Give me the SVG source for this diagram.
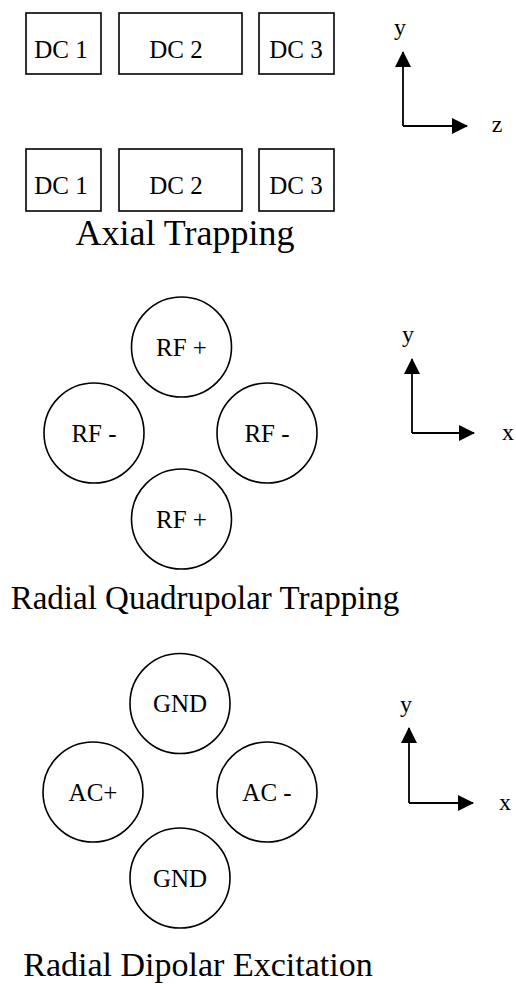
<svg xmlns="http://www.w3.org/2000/svg" width="516" height="984" viewBox="0 0 516 984">
<style>
  .el { fill: #fff; stroke: #000; stroke-width: 1.6; }
  .lbl { font-family: "Liberation Serif", "Times New Roman", serif; font-size: 25px; fill: #000; text-anchor: middle; }
  .ttl { font-family: "Liberation Serif", "Times New Roman", serif; font-size: 33px; fill: #000; text-anchor: middle; }
  .ax { font-family: "Liberation Serif", "Times New Roman", serif; font-size: 24px; fill: #000; text-anchor: middle; }
  .axl { fill: none; stroke: #000; stroke-width: 1.8; }
</style>
<defs>
  <marker id="ah" markerUnits="userSpaceOnUse" markerWidth="16" markerHeight="16" viewBox="0 0 16 16" refX="15" refY="8" orient="auto">
    <path d="M0,0 L16,8 L0,16 Z" fill="#000"/>
  </marker>
</defs>
<rect width="516" height="984" fill="#fff"/>

<!-- Axial trapping -->
<g id="dc1-top"><rect class="el" x="26" y="13" width="75" height="61"/><text class="lbl" x="61" y="58">DC 1</text></g>
<g id="dc2-top"><rect class="el" x="119" y="13" width="123" height="61"/><text class="lbl" x="176" y="58">DC 2</text></g>
<g id="dc3-top"><rect class="el" x="259" y="13" width="75" height="61"/><text class="lbl" x="296" y="58">DC 3</text></g>
<g id="dc1-bot"><rect class="el" x="26" y="149" width="75" height="62"/><text class="lbl" x="61" y="194">DC 1</text></g>
<g id="dc2-bot"><rect class="el" x="119" y="149" width="123" height="62"/><text class="lbl" x="176" y="194">DC 2</text></g>
<g id="dc3-bot"><rect class="el" x="259" y="149" width="75" height="62"/><text class="lbl" x="296" y="194">DC 3</text></g>
<text class="ttl" x="185" y="245" style="font-size:36px">Axial Trapping</text>

<!-- Radial quadrupolar trapping -->
<g id="rf-top"><circle class="el" cx="181.5" cy="347" r="50"/><text class="lbl" x="181.5" y="356">RF +</text></g>
<g id="rf-left"><circle class="el" cx="94" cy="433" r="50"/><text class="lbl" x="94" y="442">RF -</text></g>
<g id="rf-right"><circle class="el" cx="267" cy="433" r="50"/><text class="lbl" x="267" y="442">RF -</text></g>
<g id="rf-bot"><circle class="el" cx="181.5" cy="519" r="50"/><text class="lbl" x="181.5" y="528">RF +</text></g>
<text class="ttl" x="205" y="609">Radial Quadrupolar Trapping</text>

<!-- Radial dipolar excitation -->
<g id="gnd-top"><circle class="el" cx="180" cy="703.5" r="50"/><text class="lbl" x="180" y="712">GND</text></g>
<g id="ac-plus"><circle class="el" cx="93" cy="792" r="50"/><text class="lbl" x="93" y="801">AC+</text></g>
<g id="ac-minus"><circle class="el" cx="267" cy="792" r="50"/><text class="lbl" x="267" y="801">AC -</text></g>
<g id="gnd-bot"><circle class="el" cx="180" cy="878" r="50"/><text class="lbl" x="180" y="887">GND</text></g>
<text class="ttl" x="198" y="976" style="font-size:34px">Radial Dipolar Excitation</text>

<!-- Axes -->
<g id="connectors">
  <path class="axl" d="M403,126 L403,52" marker-end="url(#ah)"/>
  <path class="axl" d="M403,126 L467,126" marker-end="url(#ah)"/>
  <path class="axl" d="M412,433 L412,359" marker-end="url(#ah)"/>
  <path class="axl" d="M412,433 L474,433" marker-end="url(#ah)"/>
  <path class="axl" d="M409,803 L409,728" marker-end="url(#ah)"/>
  <path class="axl" d="M409,803 L473,803" marker-end="url(#ah)"/>
</g>
<g id="axis-labels">
  <text class="ax" x="400" y="35">y</text>
  <text class="ax" x="497" y="132">z</text>
  <text class="ax" x="408" y="342">y</text>
  <text class="ax" x="508" y="440">x</text>
  <text class="ax" x="406" y="712">y</text>
  <text class="ax" x="505" y="810">x</text>
</g>
</svg>
